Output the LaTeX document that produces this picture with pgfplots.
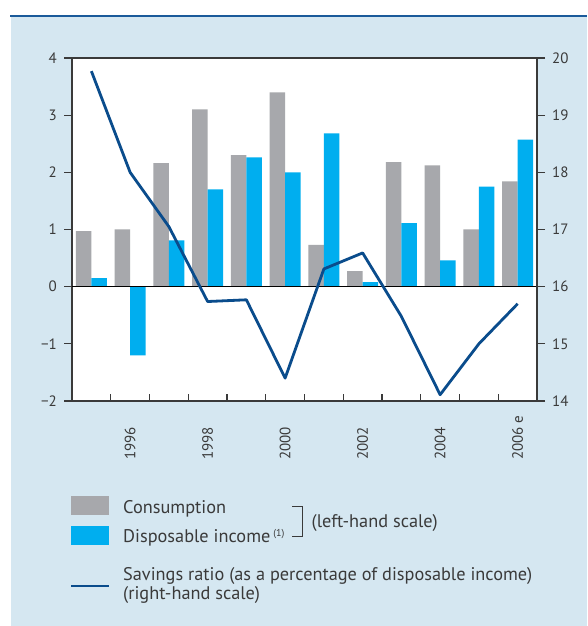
\documentclass[border=0pt]{standalone}
\usepackage{pgfplots}
\pgfplotsset{compat=1.18}
\usepackage{pgfplotstable}
\usepackage{fontspec}
\setmainfont{PT Sans}
\definecolor{cons}{HTML}{A7A8AC}
\definecolor{inc}{HTML}{00AEEF}
\definecolor{sav}{HTML}{0A4C8C}
\definecolor{panel}{HTML}{D5E7F1}
\definecolor{topline}{HTML}{1A5A9A}
\definecolor{axgray}{HTML}{3A3A3A}
\definecolor{txt}{HTML}{3A3A3A}

\pgfplotstableread{
year cons inc
1995 0.97 0.15
1996 1.00 -1.20
1997 2.16 0.81
1998 3.10 1.70
1999 2.30 2.26
2000 3.40 2.00
2001 0.73 2.68
2002 0.27 0.08
2003 2.18 1.11
2004 2.12 0.46
2005 1.00 1.75
2006 1.84 2.57
}\bars

\pgfplotstableread{
year sav
1995 19.77
1996 18.00
1997 17.05
1998 15.74
1999 15.77
2000 14.40
2001 16.31
2002 16.59
2003 15.48
2004 14.11
2005 15.00
2006 15.70
}\savings

\begin{document}
\begin{tikzpicture}[x=1pt,y=1pt]
\path[use as bounding box] (0,0) rectangle (587,626);
\fill[white] (0,0) rectangle (587,626);
\fill[panel] (11,0) rectangle (587,609);
\fill[topline] (10,608.5) rectangle (587,610.5);

\begin{axis}[
  at={(72pt,225pt)}, anchor=south west, scale only axis,
  width=465pt, height=343pt,
  xmin=1994.5, xmax=2006.5, ymin=-2, ymax=4,
  axis background/.style={fill=white},
  axis line style={axgray, line width=1.1pt},
  ybar=0pt, bar width=15.5pt,
  ytick={-2,-1,0,1,2,3,4},
  yticklabels={−2,−1,0,1,2,3,4},
  ytick pos=left,
  xtick pos=bottom,
  xtick={1996,1998,2000,2002,2004,2006},
  xticklabels={1996,1998,2000,2002,2004,2006 e},
  minor xtick={1995.5,1996.5,...,2005.5},
  xtick align=inside, ytick align=outside,
  major tick length=8pt, minor tick length=7pt,
  every major x tick/.style={draw=none},
  tick style={axgray, line width=1.1pt},
  yticklabel style={font=\fontsize{15}{16}\selectfont, text=txt, inner sep=0pt, xshift=-7pt},
  xticklabel style={font=\fontsize{15}{16}\selectfont, text=txt, yshift=-59pt, rotate=90, anchor=west, inner sep=0pt},
  /pgf/number format/assume math mode=true,
  clip=false,
]
\addplot[fill=cons, draw=none] table[x=year, y=cons] {\bars};
\addplot[fill=inc, draw=none] table[x=year, y=inc] {\bars};
\draw[black, line width=1.1pt] (axis cs:1994.5,0) -- (axis cs:2006.5,0);
\end{axis}

\begin{axis}[
  at={(72pt,225pt)}, anchor=south west, scale only axis,
  width=465pt, height=343pt,
  xmin=1994.5, xmax=2006.5, ymin=14, ymax=20,
  axis x line=none, axis y line*=right,
  axis line style={axgray, line width=1.1pt},
  ytick={14,...,20},
  ytick align=outside, major tick length=8pt,
  tick style={axgray, line width=1.1pt},
  yticklabel style={font=\fontsize{15}{16}\selectfont, text=txt, inner sep=0pt, xshift=7pt},
  /pgf/number format/assume math mode=true,
]
\addplot[sav, line width=2.8pt, mark=none, line join=round] table[x=year, y=sav] {\savings};
\end{axis}

% legend
\fill[cons] (71,110.5) rectangle (109,130);
\fill[inc] (71,80.5) rectangle (109,100);
\draw[sav, line width=2.8pt] (71,40) -- (109,40);
\begin{scope}[font=\fontsize{18.3}{20}\selectfont, text=txt]
\node[anchor=base west, inner sep=0pt] at (123,112.5) {Consumption};
\node[anchor=base west, inner sep=0pt] at (123,83) {Disposable income\,\raisebox{6pt}{\fontsize{10}{11}\selectfont(1)}};
\draw[axgray, line width=1.1pt] (292,119.5) -- (302.5,119.5) -- (302.5,89.5) -- (292,89.5);
\node[anchor=base west, inner sep=0pt] at (311.5,98.5) {(left-hand scale)};
\node[anchor=base west, inner sep=0pt] at (123,45) {Savings ratio (as a percentage of disposable income)};
\node[anchor=base west, inner sep=0pt] at (123,26) {(right-hand scale)};
\end{scope}
\end{tikzpicture}
\end{document}
